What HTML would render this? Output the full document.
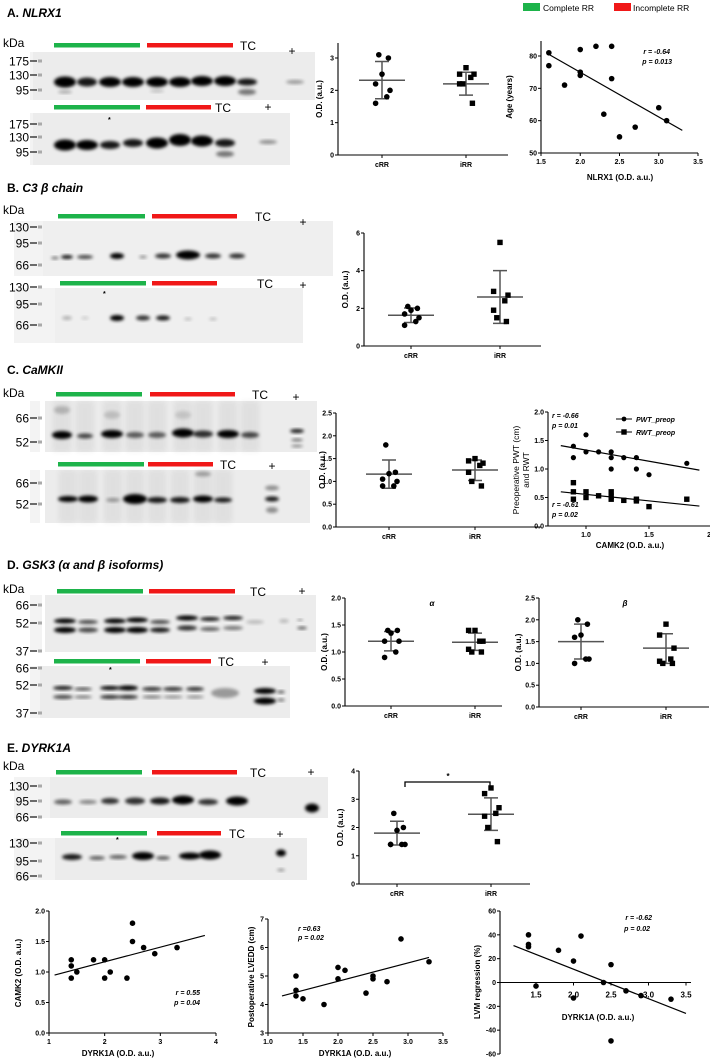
<!DOCTYPE html>
<html><head><meta charset="utf-8">
<style>
html,body{margin:0;padding:0;background:#fff;}
svg{display:block;font-family:"Liberation Sans",Arial,sans-serif;}
.tk{font-size:7px;font-weight:bold;}
.al{font-size:8px;font-weight:bold;}
.mk{font-size:12px;}
.st{font-size:7px;font-weight:bold;font-style:italic;}
.ttl{font-size:12px;font-weight:bold;}
.lgt{font-size:8.5px;font-weight:normal;}
</style></head>
<body>
<svg id="fig" width="710" height="1062" viewBox="0 0 710 1062">
<defs>
<filter id="blur" x="-50%" y="-50%" width="200%" height="200%"><feGaussianBlur stdDeviation="1.6"/></filter>
<filter id="blur2" x="-50%" y="-50%" width="200%" height="200%"><feGaussianBlur stdDeviation="3"/></filter>
</defs>
<g id="root"></g>
</svg>
<script>
// ---------- data ----------
const groups = ['cRR','iRR'];
// Dot plots
const aC = [3.1,3.0,2.5,2.2,2.0,1.8,1.6], aI = [2.7,2.5,2.5,2.4,2.2,2.2,1.6];
const aStats = [2.31,1.74,2.89, 2.2,1.85,2.56];
const bC = [2.1,2.0,1.9,1.7,1.5,1.3,1.1], bI = [5.5,2.9,2.7,2.4,1.9,1.5,1.3];
const bStats = [1.63,1.25,2.02, 2.6,1.2,4.0];
const cC = [1.8,1.2,1.17,1.05,1.0,0.9,0.9], cI = [1.5,1.45,1.4,1.35,1.2,1.0,0.9];
const cStats = [1.16,0.85,1.47, 1.25,1.02,1.47];
const daC = [1.4,1.4,1.35,1.2,1.2,1.0,0.9], daI = [1.4,1.4,1.2,1.2,1.05,1.0,1.0];
const daStats = [1.2,1.02,1.38, 1.18,1.03,1.35];
const dbC = [2.0,1.9,1.65,1.6,1.1,1.1,1.0], dbI = [1.9,1.65,1.35,1.1,1.05,1.0,1.0];
const dbStats = [1.5,1.1,1.9, 1.35,1.0,1.68];
const eC = [2.5,2.0,1.9,1.4,1.4,1.4,1.4], eI = [3.4,3.2,2.7,2.5,2.4,2.0,1.5];
const eStats = [1.8,1.38,2.22, 2.47,1.9,3.05];
// Scatter A: NLRX1 vs age
const saX = [1.6,1.6,1.8,2.0,2.0,2.0,2.2,2.3,2.4,2.4,2.5,2.7,3.0,3.1];
const saY = [81,77,71,82,75,74,83,62,83,73,55,58,64,60];
const saFit = [1.6,80.5,3.3,57];
// Scatter C: CAMK2 vs PWT / RWT
const scPX = [0.9,0.9,1.0,1.0,1.1,1.2,1.2,1.2,1.3,1.4,1.4,1.5,1.8];
const scPY = [1.4,1.2,1.6,1.3,1.3,1.3,1.2,1.0,1.2,1.2,1.0,0.9,1.1];
const scRX = [0.9,0.9,0.9,1.0,1.0,1.1,1.2,1.2,1.2,1.3,1.4,1.4,1.5,1.8];
const scRY = [0.76,0.6,0.47,0.6,0.5,0.53,0.6,0.52,0.47,0.45,0.47,0.44,0.34,0.47];
const scPFit = [0.8,1.41,1.9,0.98];
const scRFit = [0.8,0.6,1.9,0.35];
// Bottom scatters
const s1X = [1.4,1.4,1.4,1.5,1.8,2.0,2.0,2.1,2.4,2.5,2.5,2.7,2.9,3.3];
const s1Y = [1.2,1.1,0.9,1.0,1.2,1.2,0.9,1.0,0.9,1.8,1.5,1.4,1.3,1.4];
const s1Fit = [1.1,0.95,3.8,1.6];
const s2X = [1.4,1.4,1.4,1.5,1.8,2.0,2.0,2.1,2.4,2.5,2.5,2.7,2.9,3.3];
const s2Y = [5.0,4.5,4.3,4.2,4.0,5.3,4.9,5.2,4.4,5.0,4.9,4.8,6.3,5.5];
const s2Fit = [1.2,4.3,3.3,5.65];
const s3X = [1.4,1.4,1.4,1.5,1.8,2.0,2.0,2.1,2.4,2.5,2.5,2.7,2.9,3.3];
const s3Y = [40,32,30,-3,27,18,-13,39,0,15,-49,-7,-11,-14];
const s3Fit = [1.2,31,3.5,-26];
// tick labels
const ticksA = [0,1,2,3], ticksB = [0,2,4,6], ticksC = [0,0.5,1,1.5,2,2.5];
const ticksDa = [0,0.5,1,1.5,2], ticksDb = [0,0.5,1,1.5,2,2.5], ticksE = [0,1,2,3,4];
const saXT = [1.5,2.0,2.5,3.0,3.5], saYT = [50,60,70,80];
const scXT = [1.0,1.5,2.0], scYT = [0,0.5,1,1.5,2];
const s1XT = [1,2,3,4], s1YT = [0,0.5,1,1.5,2];
const s2XT = [1.0,1.5,2.0,2.5,3.0,3.5], s2YT = [3,4,5,6,7];
const s3XT = [1.5,2.0,2.5,3.0,3.5], s3YT = [-60,-40,-20,0,20,40,60];

// ---------- helpers ----------
const NS='http://www.w3.org/2000/svg';
const root=document.getElementById('root');
function mk(p,tag,a,txt){const e=document.createElementNS(NS,tag);for(const k in a)e.setAttribute(k,a[k]);if(txt!==undefined)e.textContent=txt;(p||root).appendChild(e);return e;}
function lin(d0,d1,r0,r1){return v=>r0+(v-d0)/(d1-d0)*(r1-r0);}
function grp(name){const g=mk(root,'g',{});return g;}
function txt(p,x,y,s,cls,name,extra){const t=mk(p,'text',Object.assign({x:x,y:y,class:cls||'tk'},extra||{}),s);return t;}
function fmt(v,d){return d===undefined?String(v):v.toFixed(d);}

function yAxis(g,ax,y,ticks,top,bot,dec){
  const l=mk(g,'line',{x1:ax,y1:top,x2:ax,y2:bot,stroke:'#000','stroke-width':1.1});
  
  ticks.forEach(t=>{const yy=y(t);
    const tl=mk(g,'line',{x1:ax-3,y1:yy,x2:ax,y2:yy,stroke:'#000','stroke-width':1});
    
    txt(g,ax-4,yy+2.5,fmt(t,dec),'tk','y-tick-label',{'text-anchor':'end'});});
}
function xAxis(g,ay,x,ticks,left,right,dec,ly,cls){
  const l=mk(g,'line',{x1:left,y1:ay,x2:right,y2:ay,stroke:'#000','stroke-width':1.1});
  
  ticks.forEach(t=>{const xx=x(t);
    const tl=mk(g,'line',{x1:xx,y1:ay,x2:xx,y2:ay+3,stroke:'#000','stroke-width':1});
    
    txt(g,xx,ly||ay+11,fmt(t,dec),cls||'tk','x-tick-label',{'text-anchor':'middle'});});
}
function circle(g,x,y,r,name){const c=mk(g,'circle',{cx:x,cy:y,r:r||2.8,fill:'#000'});}
function square(g,x,y,name){const c=mk(g,'rect',{x:x-2.7,y:y-2.7,width:5.4,height:5.4,fill:'#000'});}
const jit=[-2,4,0,-4,5,3,-4];
function dotPlot(name,ax,y0,y1,vTop,ticks,dec,axTop,xEnd,cx1,cx2,cD,iD,st,ylab,ylx){
  const g=grp(name);
  const y=lin(0,vTop,y0,y1);
  yAxis(g,ax,y,ticks,axTop,y0,dec);
  const l=mk(g,'line',{x1:ax,y1:y0,x2:xEnd,y2:y0,stroke:'#000','stroke-width':1.1});
  
  [cx1,cx2].forEach((cx,i)=>{const tl=mk(g,'line',{x1:cx,y1:y0,x2:cx,y2:y0+3,stroke:'#000'});
    txt(g,cx,y0+12,groups[i],'tk','x-tick-label',{'text-anchor':'middle'});});
  [[cx1,st[0],st[1],st[2]],[cx2,st[3],st[4],st[5]]].forEach(([cx,m,lo,hi],i)=>{
    const e=mk(g,'path',{d:`M${cx-23},${y(m)}H${cx+23}M${cx},${y(lo)}V${y(hi)}M${cx-7},${y(lo)}H${cx+7}M${cx-7},${y(hi)}H${cx+7}`,stroke:'#555','stroke-width':1.5,fill:'none'});
    });
  cD.forEach((v,i)=>circle(g,cx1+jit[i%7]*1.6,y(v),2.8,'crr-point'));
  iD.forEach((v,i)=>square(g,cx2+jit[(i+2)%7]*1.6,y(v),'irr-point'));
  txt(g,ylx||ax-20,(y0+axTop)/2,ylab||'O.D. (a.u.)','al','y-axis-title',{'text-anchor':'middle',transform:`rotate(-90 ${ylx||ax-20} ${(y0+axTop)/2})`});
  return {g,y};
}
function fitLine(g,x,y,f,name){const l=mk(g,'line',{x1:x(f[0]),y1:y(f[1]),x2:x(f[2]),y2:y(f[3]),stroke:'#000','stroke-width':1.2});}

function blot(name,x,y,w,h,lanes,bands,opts){
  opts=opts||{};
  const g=document.createElementNS(NS,'g');root.insertBefore(g,root.firstChild);
  
  
  if(opts.strip){const s=mk(g,'rect',{x:opts.strip[0],y:y,width:opts.strip[1],height:h,fill:'#f3f3f3'});}
  const r=mk(g,'rect',{x:x,y:y,width:w,height:h,fill:opts.bg||'#ececec'});
  if(opts.streak){lanes.forEach(lx=>{const s=mk(g,'rect',{x:lx-9,y:y,width:18,height:h,fill:'#000',opacity:opts.streak,filter:'url(#blur2)'});});}
  bands.forEach(b=>{
    const lx=b[0]<50?lanes[b[0]]:b[0];
    const e=mk(g,'ellipse',{cx:lx,cy:b[1],rx:(b[3]||20)/2,ry:(b[4]||7)/2,fill:'#000',opacity:b[2],filter:'url(#blur)'});
    });
  return g;
}
function markers(name,list){const g=grp(name);list.forEach(m=>{txt(g,29,m[1]+4.5,m[0],'mk','marker-label',{'text-anchor':'end'});
  const t=mk(g,'line',{x1:30,y1:m[1],x2:37,y2:m[1],stroke:'#222','stroke-width':1.3});
  const s=mk(g,'rect',{x:38,y:m[1]-1.5,width:4,height:3,fill:'#aaa'});});}
function bars(name,y,g1,r1,tcx,plusx,plusy){const g=grp(name);
  const a=mk(g,'rect',{x:g1[0],y:y-2,width:g1[1]-g1[0],height:4.5,fill:'#1db34a'});
  const b=mk(g,'rect',{x:r1[0],y:y-2,width:r1[1]-r1[0],height:4.5,fill:'#f01818'});
  txt(g,tcx,y+5,'TC','mk','tc-label',{'font-size':'11px'});
  txt(g,plusx,(plusy||y)+5,'+','mk','positive-control-label',{'font-size':'15px','text-anchor':'middle'});}

// ---------- titles & legend ----------
const hdr=grp('header');
function title(y,letter,name,tname){const t=txt(hdr,7,y,'','ttl',tname);mk(t,'tspan',{},letter+' ');mk(t,'tspan',{'font-style':'italic'},name);}
title(17,'A.','NLRX1','title-a');
title(192,'B.','C3 β chain','title-b');
title(374,'C.','CaMKII','title-c');
title(569,'D.','GSK3 (α and β isoforms)','title-d');
title(752,'E.','DYRK1A','title-e');
const lg=grp('legend');
let r1=mk(lg,'rect',{x:523,y:3,width:17,height:8,fill:'#1db34a'});
txt(lg,543,11,'Complete RR','lgt','legend-complete-label');
let r2=mk(lg,'rect',{x:614,y:3,width:17,height:8,fill:'#f01818'});
txt(lg,633,11,'Incomplete RR','lgt','legend-incomplete-label');
[47,214,397,593,770].forEach((y,i)=>txt(hdr,3,y,'kDa','mk','kda-label'));

// ---------- A blots ----------
bars('a1-bars',45,[54,140],[147,233],240,292,50);
blot('blot-a1',33,52,282,48,[65,87,110,133,157,180,202,225,247],
 [[0,82,1,22,11],[1,82,.9,20,9],[2,82,1,22,10],[3,82,1,22,10],[4,82,1,22,10],[5,82,1,22,10],[6,81,1,22,10],[7,81,1,22,10],[8,82,.9,20,7],[8,92,.5,18,6],[295,82,.35,18,4],[0,92,.3,14,3],[4,91,.2,14,3]],{strip:[30,10]});
markers('a1-markers',[['175',61],['130',75],['95',90]]);
bars('a2-bars',107,[54,140],[146,211],215,268,106);
blot('blot-a2',33,113,257,52,[65,87,110,133,157,180,202,225],
 [[0,145,1,22,11],[1,145,1,22,10],[2,145,.9,20,8],[3,143,.9,20,8],[4,143,1,22,11],[5,140,1,22,12],[6,141,1,22,11],[7,143,.9,20,8],[7,154,.5,18,6],[268,142,.4,18,4]],{strip:[30,10]});
txt(root,108,122,'*','tk','asterisk').setAttribute('font-size','9px');
markers('a2-markers',[['175',124],['130',137],['95',152]]);

// ---------- B blots ----------
bars('b1-bars',216,[58,145],[152,237],255,303,221);
blot('blot-b1',43,221,290,55,[67,85,117,143,163,188,213,237],
 [[0,257,.9,12,4],[1,257,.7,16,4],[2,256,1,14,6],[3,257,.4,8,3],[4,256,.8,16,5],[5,255,1,24,9],[6,256,.8,16,5],[7,256,.8,16,5],[55,258,.5,8,3]],{bg:'#efefef',strip:[14,29]});
markers('b1-markers',[['130',227],['95',243],['66',265]]);
bars('b2-bars',283,[60,146],[152,217],257,303,284);
blot('blot-b2',55,288,248,55,[67,85,117,143,163,188,213],
 [[0,318,.25,10,4],[1,318,.15,8,3],[2,318,1,14,6],[3,318,.8,14,5],[4,318,.9,14,5],[5,319,.2,8,3],[6,319,.2,8,3]],{bg:'#efefef',strip:[14,41]});
txt(root,103,296,'*','tk','asterisk').setAttribute('font-size','9px');
markers('b2-markers',[['130',287],['95',304],['66',325]]);

// ---------- C blots ----------
bars('c1-bars',394,[56,142],[150,235],252,296,396);
blot('blot-c1',45,401,272,51,[62,85,112,135,157,183,203,228,250],
 [[0,435,1,20,8],[1,436,.7,16,5],[2,434,1,22,8],[3,435,.6,18,6],[4,435,.6,18,6],[5,433,1,22,9],[6,434,.8,20,7],[7,434,1,22,8],[8,435,.7,18,6],[297,431,.9,14,4],[297,440,.5,12,3],[297,446,.4,12,3],[0,410,.2,16,8],[2,415,.15,16,8],[5,415,.12,16,8]],{streak:.05,strip:[30,10]});
markers('c1-markers',[['66',418],['52',442]]);
bars('c2-bars',464,[58,144],[148,213],220,272,465);
blot('blot-c2',45,470,265,53,[68,88,113,135,157,180,203,223],
 [[0,499,1,20,6],[1,499,1,20,7],[2,500,.35,14,4],[3,499,1,24,10],[4,500,.9,20,6],[5,500,.9,20,6],[6,499,1,20,7],[7,500,.9,18,5],[272,499,.9,14,5],[272,488,.4,14,5],[272,510,.4,12,6],[6,474,.3,16,5]],{streak:.05,strip:[30,10]});
markers('c2-markers',[['66',483],['52',504]]);

// ---------- D blots ----------
bars('d1-bars',591,[57,143],[149,235],250,302,590);
blot('blot-d1',45,595,271,57,[65,88,115,137,160,187,210,233],
 [[0,621,1,22,5],[0,630,1,22,6],[1,622,.7,20,4],[1,630,.7,20,5],[2,621,1,22,5],[2,630,1,22,6],[3,620,1,22,5],[3,630,1,22,6],[4,622,.7,20,4],[4,630,.9,20,5],[5,618,1,22,5],[5,628,.8,20,5],[6,619,.9,20,4],[6,629,.6,20,4],[7,618,.9,20,4],[7,628,.5,20,4],[255,622,.2,18,4],[284,621,.2,10,4],[300,620,.4,6,2],[302,628,.6,10,3]],{strip:[30,12]});
markers('d1-markers',[['66',605],['52',623],['37',651]]);
bars('d2-bars',661,[54,140],[146,211],218,265,661);
blot('blot-d2',40,666,250,52,[63,83,110,128,152,173,195],
 [[0,688,.9,20,4],[0,697,.7,20,4],[1,689,.7,18,3],[1,697,.5,18,3],[2,688,1,20,4],[2,697,.8,20,4],[3,688,1,20,5],[3,697,.8,20,4],[4,689,.8,20,4],[4,697,.5,20,3],[5,689,.8,20,4],[5,697,.4,20,3],[6,689,.8,18,4],[6,697,.4,18,3],[225,693,.35,28,10],[265,691,1,22,6],[265,701,1,22,7],[281,692,.6,8,3],[281,700,.5,8,3]],{strip:[30,10]});
txt(root,109,672,'*','tk','asterisk').setAttribute('font-size','9px');
markers('d2-markers',[['66',668],['52',685],['37',713]]);

// ---------- E blots ----------
bars('e1-bars',772,[56,142],[152,237],250,311,771);
blot('blot-e1',50,777,278,41,[63,88,110,135,160,183,208,237],
 [[0,802,.6,18,5],[1,802,.45,18,4],[2,801,.8,18,6],[3,801,.8,20,7],[4,801,.9,20,7],[5,800,1,22,9],[6,802,.8,20,6],[7,801,1,22,9],[312,808,1,14,9]],{strip:[14,36]});
markers('e1-markers',[['130',786],['95',801],['66',817]]);
bars('e2-bars',833,[61,147],[157,221],229,280,833);
blot('blot-e2',55,838,252,42,[72,97,118,143,163,190,210],
 [[0,857,.9,20,6],[1,858,.6,16,4],[2,857,.6,18,4],[3,856,1,22,8],[4,858,.6,14,4],[5,856,1,22,7],[6,855,1,22,9],[281,853,1,10,7],[281,870,.35,8,3]],{strip:[14,41]});
txt(root,116,842,'*','tk','asterisk').setAttribute('font-size','9px');
markers('e2-markers',[['130',843],['95',861],['66',876]]);

// ---------- dot plots ----------
dotPlot('dot-plot-a',338,155,58,3,ticksA,undefined,43,508,382,466,aC,aI,aStats,'O.D. (a.u.)',322);
dotPlot('dot-plot-b',364,346,233,6,ticksB,undefined,233,541,411,500,bC,bI,bStats,'O.D. (a.u.)',348);
dotPlot('dot-plot-c',336,527,413,2.5,ticksC,1,413,541,389,475,cC,cI,cStats,'O.D. (a.u.)',325);
const da=dotPlot('dot-plot-d-alpha',345,706,598,2,ticksDa,1,598,502,391,475,daC,daI,daStats,'O.D. (a.u.)',327);
txt(da.g,432,606,'α','al','alpha-title',{'font-size':'12px','font-style':'italic','text-anchor':'middle'});
const db=dotPlot('dot-plot-d-beta',539,707,598,2.5,ticksDb,1,598,709,581,666,dbC,dbI,dbStats,'O.D. (a.u.)',521);
txt(db.g,625,606,'β','al','beta-title',{'font-size':'12px','font-style':'italic','text-anchor':'middle'});
const de=dotPlot('dot-plot-e',359,884,771,4,ticksE,undefined,771,530,397,491,eC,eI,eStats,'O.D. (a.u.)',343);
const br=mk(de.g,'path',{d:'M405,787V782H490V787',stroke:'#000','stroke-width':1.3,fill:'none'});


txt(de.g,448,779,'*','al','significance-star',{'font-size':'11px','text-anchor':'middle'});

// ---------- scatter A ----------
(function(){const g=grp('scatter-a');const x=lin(1.5,3.5,541,698),y=lin(50,80,153,56);
 yAxis(g,541,y,saYT,41,153);xAxis(g,153,x,saXT,541,698,1);
 saX.forEach((v,i)=>circle(g,x(v),y(saY[i]),2.8,'point'));fitLine(g,x,y,saFit);
 txt(g,620,180,'NLRX1 (O.D. a.u.)','al','x-axis-title',{'text-anchor':'middle'});
 txt(g,512,97,'Age (years)','al','y-axis-title',{'text-anchor':'middle',transform:'rotate(-90 512 97)','font-size':'9px'});
 txt(g,670,54,'r = -0.64','st','r-value',{'text-anchor':'end'});txt(g,672,64,'p = 0.013','st','p-value',{'text-anchor':'end'});})();

// ---------- scatter C ----------
(function(){const g=grp('scatter-c');const x=lin(1,1.5,586,649),y=lin(0,2,526,412);
 yAxis(g,548,y,scYT,412,526,1);xAxis(g,526,x,scXT,548,710,1);
 scPX.forEach((v,i)=>circle(g,x(v),y(scPY[i]),2.6,'pwt-point'));
 scRX.forEach((v,i)=>square(g,x(v),y(scRY[i]),'rwt-point'));
 fitLine(g,x,y,scPFit,'pwt-regression-line');fitLine(g,x,y,scRFit,'rwt-regression-line');
 txt(g,630,548,'CAMK2 (O.D. a.u.)','al','x-axis-title',{'text-anchor':'middle'});
 txt(g,519,470,'Preoperative PWT (cm)','lgt','y-axis-title',{'text-anchor':'middle',transform:'rotate(-90 519 470)'});
 txt(g,529,470,'and RWT','lgt','y-axis-title-2',{'text-anchor':'middle',transform:'rotate(-90 529 470)'});
 txt(g,552,418,'r = -0.66','st','pwt-r-value');txt(g,552,428,'p = 0.01','st','pwt-p-value');
 txt(g,552,507,'r = -0.61','st','rwt-r-value');txt(g,552,517,'p = 0.02','st','rwt-p-value');
 const l1=mk(g,'line',{x1:616,y1:419,x2:632,y2:419,stroke:'#000'});
 circle(g,624,419,2.4,'legend-pwt-marker');
 txt(g,636,422,'PWT_preop','st','legend-pwt-label');
 const l2=mk(g,'line',{x1:616,y1:432,x2:632,y2:432,stroke:'#000'});
 square(g,624,432,'legend-rwt-marker');
 txt(g,636,435,'RWT_preop','st','legend-rwt-label');})();

// ---------- bottom scatters ----------
(function(){const g=grp('scatter-camk2-dyrk1a');const x=lin(1,4,49,216),y=lin(0,2,1033,911);
 yAxis(g,49,y,s1YT,911,1033,1);xAxis(g,1033,x,s1XT,49,216);
 s1X.forEach((v,i)=>circle(g,x(v),y(s1Y[i]),2.8,'point'));fitLine(g,x,y,s1Fit);
 txt(g,118,1056,'DYRK1A (O.D. a.u.)','al','x-axis-title',{'text-anchor':'middle'});
 txt(g,21,973,'CAMK2 (O.D. a.u.)','al','y-axis-title',{'text-anchor':'middle',transform:'rotate(-90 21 973)'});
 txt(g,200,995,'r = 0.55','st','r-value',{'text-anchor':'end'});txt(g,200,1005,'p = 0.04','st','p-value',{'text-anchor':'end'});})();
(function(){const g=grp('scatter-lvedd-dyrk1a');const x=lin(1,3.5,268,443),y=lin(3,7,1033,919);
 yAxis(g,268,y,s2YT,919,1033);xAxis(g,1033,x,s2XT,268,443,1);
 s2X.forEach((v,i)=>circle(g,x(v),y(s2Y[i]),2.8,'point'));fitLine(g,x,y,s2Fit);
 txt(g,355,1056,'DYRK1A (O.D. a.u.)','al','x-axis-title',{'text-anchor':'middle'});
 txt(g,254,977,'Postoperative LVEDD (cm)','al','y-axis-title',{'text-anchor':'middle',transform:'rotate(-90 254 977)','font-size':'8.5px'});
 txt(g,298,931,'r =0.63','st','r-value');txt(g,298,940,'p = 0.02','st','p-value');})();
(function(){const g=grp('scatter-lvm-dyrk1a');const x=lin(1.5,3.5,536,686),y=lin(-60,60,1054,911);
 yAxis(g,500,y,s3YT,911,1054);xAxis(g,y(0),x,s3XT,500,691,1,y(0)+15,'al');
 s3X.forEach((v,i)=>circle(g,x(v),y(s3Y[i]),2.8,'point'));fitLine(g,x,y,s3Fit);
 txt(g,598,1020,'DYRK1A (O.D. a.u.)','al','x-axis-title',{'text-anchor':'middle','font-size':'9.5px'});
 txt(g,480,982,'LVM regression (%)','al','y-axis-title',{'text-anchor':'middle',transform:'rotate(-90 480 982)','font-size':'10px'});
 txt(g,652,920,'r  = -0.62','st','r-value',{'text-anchor':'end'});txt(g,650,931,'p = 0.02','st','p-value',{'text-anchor':'end'});})();
</script>
</body></html>
